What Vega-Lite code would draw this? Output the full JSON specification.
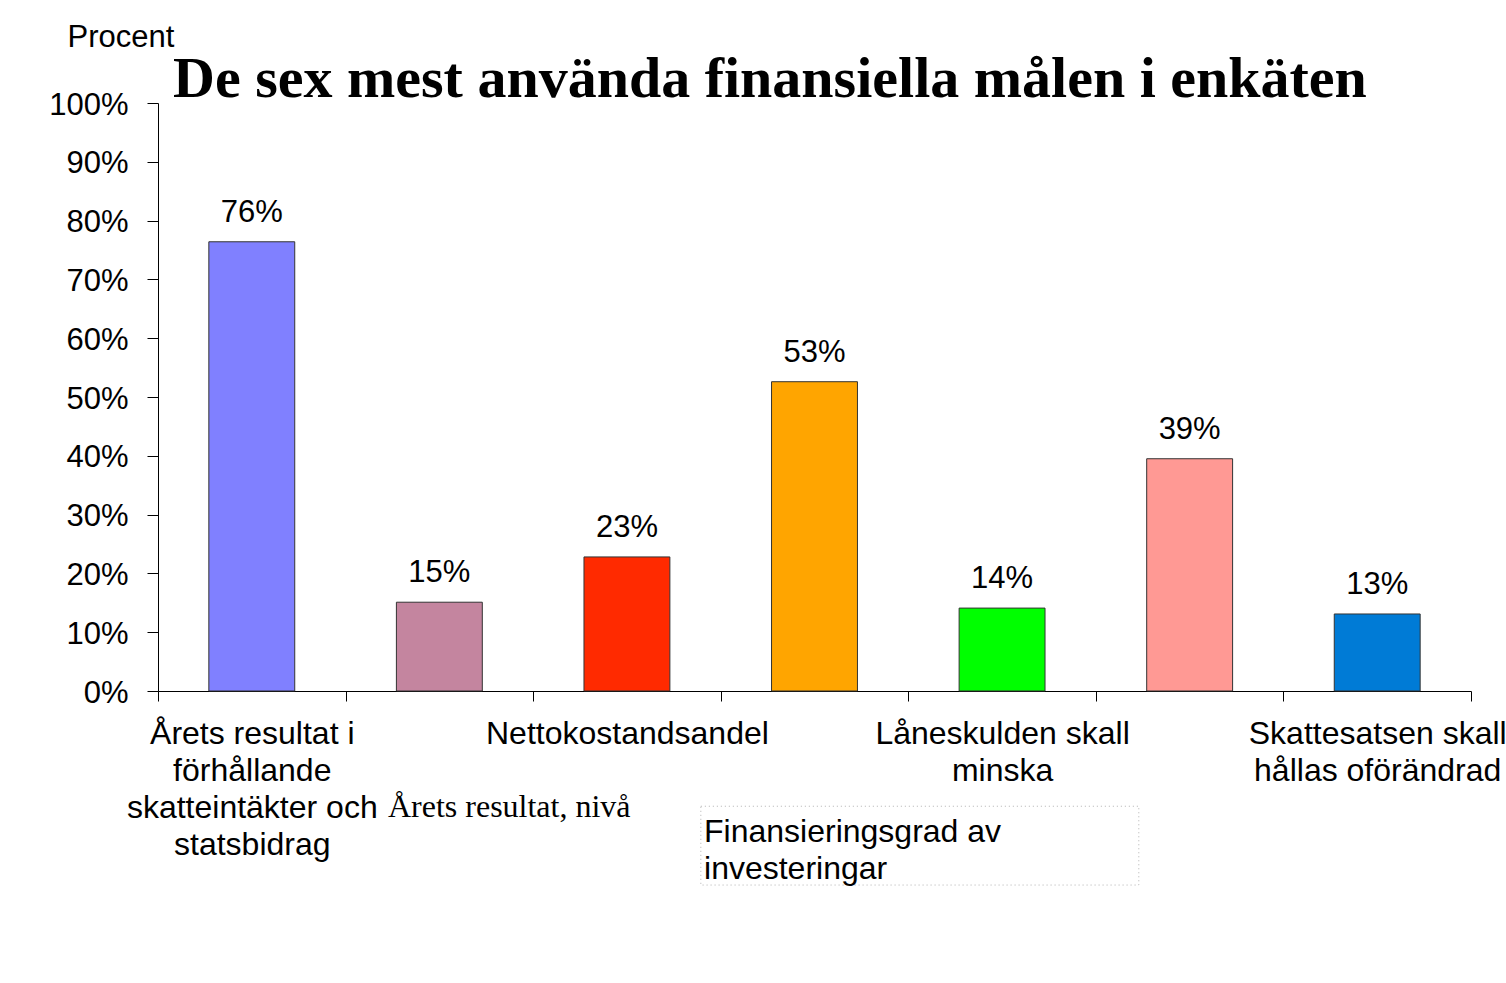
{
  "$schema": "https://vega.github.io/schema/vega-lite/v6.json",
  "autosize": {"type": "none"},
  "padding": {"left": 158, "top": 103, "right": 35, "bottom": 292},
  "width": 1313,
  "height": 588,
  "background": "white",
  "config": {
    "view": {"stroke": null},
    "font": "Liberation Sans",
    "axis": {"labelFont": "Liberation Sans", "titleFont": "Liberation Sans", "labelColor": "black", "titleColor": "black", "domainColor": "black", "tickColor": "black", "grid": false}
  },
  "title": {
    "text": "De sex mest använda finansiella målen i enkäten",
    "font": "Liberation Serif",
    "fontWeight": "bold",
    "fontSize": 58,
    "color": "black",
    "anchor": "start",
    "frame": "group",
    "dx": 15,
    "offset": -88
  },
  "layer": [
    {
      "data": {
        "values": [
          {"mal": "Årets resultat i|förhållande|skatteintäkter och|statsbidrag", "andel": 76.4, "etikett": "76%"},
          {"mal": "Årets resultat, nivå", "andel": 15.1, "etikett": "15%"},
          {"mal": "Nettokostandsandel", "andel": 22.8, "etikett": "23%"},
          {"mal": "Finansieringsgrad av investeringar", "andel": 52.6, "etikett": "53%"},
          {"mal": "Låneskulden skall|minska", "andel": 14.1, "etikett": "14%"},
          {"mal": "Mål 6", "andel": 39.5, "etikett": "39%"},
          {"mal": "Skattesatsen skall|hållas oförändrad", "andel": 13.1, "etikett": "13%"}
        ]
      },
      "layer": [
        {
          "mark": {"type": "bar", "stroke": "#333333", "strokeWidth": 1, "width": {"band": 0.458}},
          "encoding": {
            "x": {
              "field": "mal", "type": "nominal", "sort": null,
              "scale": {"paddingInner": 0, "paddingOuter": 0},
              "axis": {
                "title": null,
                "labelAngle": 0,
                "labelLimit": 0,
                "labelFontSize": 32,
                "labelLineHeight": 37,
                "labelPadding": 17,
                "labelBaseline": "top",
                "tickBand": "extent",
                "tickSize": 10,
                "labelExpr": "test(/^(Årets resultat i|Nettokost|Låneskulden|Skattesatsen)/, datum.label) ? split(datum.label, '|') : ''"
              }
            },
            "y": {
              "field": "andel", "type": "quantitative",
              "scale": {"domain": [0, 100]},
              "axis": {
                "values": [0, 10, 20, 30, 40, 50, 60, 70, 80, 90, 100],
                "labelExpr": "datum.value + '%'",
                "labelFontSize": 31,
                "labelPadding": 19,
                "labelOffset": 2,
                "tickSize": 11,
                "title": "Procent",
                "titleAngle": 0,
                "titleAlign": "left",
                "titleBaseline": "alphabetic",
                "titleX": -91,
                "titleY": -57,
                "titleFontSize": 31,
                "titleFontWeight": "normal"
              }
            },
            "color": {
              "field": "mal", "type": "nominal", "sort": null,
              "scale": {"range": ["#8080FF", "#C4859F", "#FF2A00", "#FFA500", "#00FF00", "#FF9994", "#007BD6"]},
              "legend": null
            }
          }
        },
        {
          "mark": {"type": "text", "fontSize": 31, "baseline": "alphabetic", "dy": -20, "color": "black"},
          "encoding": {
            "x": {"field": "mal", "type": "nominal", "sort": null},
            "y": {"field": "andel", "type": "quantitative"},
            "text": {"field": "etikett"}
          }
        }
      ]
    },
    {
      "data": {"values": [{"t": "Årets resultat, nivå", "b": "Finansieringsgrad av\ninvesteringar"}]},
      "layer": [
        {
          "mark": {"type": "rect", "filled": false, "stroke": "#b0b0b0", "strokeWidth": 1, "strokeDash": [1, 3]},
          "encoding": {
            "x": {"datum": 2.894, "type": "quantitative", "scale": {"domain": [0, 7]}, "axis": null},
            "x2": {"datum": 5.229},
            "y": {"datum": -19.6, "type": "quantitative"},
            "y2": {"datum": -33.0}
          }
        },
        {
          "mark": {"type": "text", "font": "Liberation Sans", "fontSize": 32, "align": "left", "baseline": "alphabetic", "lineBreak": "\n", "lineHeight": 37, "color": "black"},
          "encoding": {
            "x": {"datum": 2.911, "type": "quantitative", "scale": {"domain": [0, 7]}, "axis": null},
            "y": {"datum": -25.7, "type": "quantitative"},
            "text": {"field": "b"}
          }
        },
        {
          "mark": {"type": "text", "font": "Liberation Serif", "fontSize": 32, "align": "left", "baseline": "alphabetic", "color": "black"},
          "encoding": {
            "x": {"datum": 1.226, "type": "quantitative", "scale": {"domain": [0, 7]}, "axis": null},
            "y": {"datum": -21.4, "type": "quantitative"},
            "text": {"field": "t"}
          }
        }
      ]
    }
  ],
  "resolve": {"scale": {"x": "independent"}}
}
